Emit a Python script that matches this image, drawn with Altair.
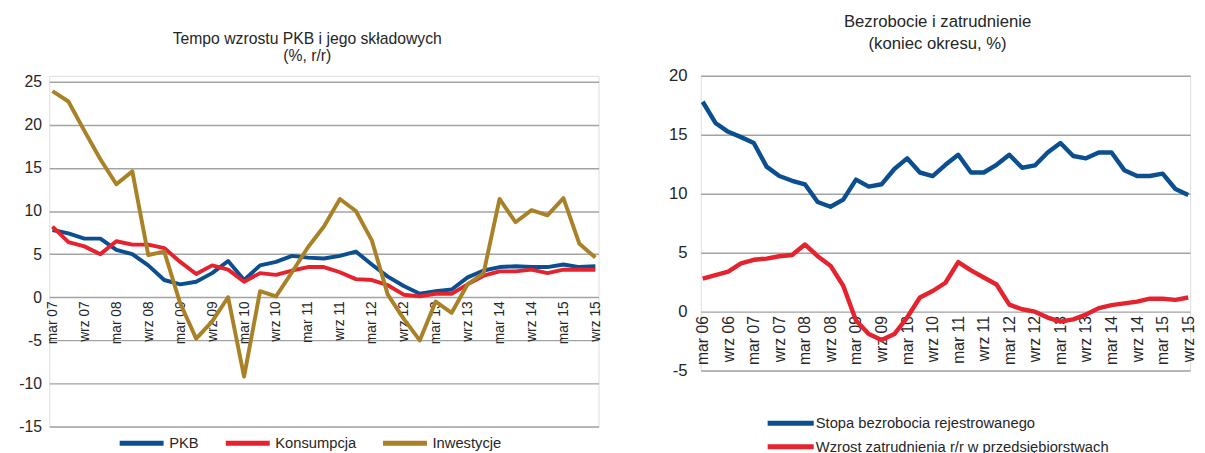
import altair as alt
import pandas as pd

FONT = "Liberation Sans"

# ---------------- left chart data (quarterly, mar 07 - wrz 15) ----------------
months = ["mar", "cze", "wrz", "gru"]
q_left = [f"{m} {y:02d}" for y in range(7, 16) for m in months][:35]
left_ticks = [q for q in q_left if q.startswith(("mar", "wrz"))]

pkb = [7.8, 7.4, 6.8, 6.8, 5.5, 5.0, 3.7, 2.0, 1.5, 1.8,
       2.8, 4.2, 2.0, 3.7, 4.1, 4.8, 4.6, 4.5, 4.8, 5.3,
       3.8, 2.4, 1.3, 0.4, 0.7, 0.9, 2.3, 3.1, 3.5, 3.6,
       3.5, 3.5, 3.8, 3.5, 3.6]
konsumpcja = [8.2, 6.4, 5.9, 5.0, 6.5, 6.1, 6.1, 5.7, 4.1, 2.7,
              3.7, 3.2, 1.8, 2.8, 2.6, 3.1, 3.5, 3.5, 2.9, 2.1,
              2.0, 1.4, 0.3, 0.1, 0.4, 0.4, 1.5, 2.5, 3.0, 3.0,
              3.2, 2.8, 3.2, 3.2, 3.2]
inwestycje = [23.9, 22.7, 19.3, 16.0, 13.1, 14.6, 4.9, 5.3, -0.7, -4.8,
              -2.8, 0.0, -9.2, 0.7, 0.1, 2.9, 5.8, 8.2, 11.4, 10.0,
              6.6, 0.3, -2.5, -5.0, -0.5, -1.8, 1.5, 2.8, 11.4, 8.7,
              10.1, 9.5, 11.5, 6.2, 4.6]
left_series = ["PKB", "Konsumpcja", "Inwestycje"]
left_colors = ["#0b4f91", "#e5232f", "#a98127"]
left_yticks = [-15, -10, -5, 0, 5, 10, 15, 20, 25]

# ---------------- right chart data (quarterly, mar 06 - wrz 15) ----------------
q_right = [f"{m} {y:02d}" for y in range(6, 16) for m in months][:39]
right_ticks = [q for q in q_right if q.startswith(("mar", "wrz"))]

bezrobocie = [17.8, 16.0, 15.25, 14.8, 14.3, 12.3, 11.5, 11.1, 10.8, 9.3,
              8.9, 9.5, 11.2, 10.6, 10.8, 12.1, 13.0, 11.8, 11.5, 12.45,
              13.3, 11.8, 11.8, 12.45, 13.3, 12.2, 12.4, 13.5, 14.3, 13.2,
              13.0, 13.5, 13.5, 12.0, 11.5, 11.5, 11.7, 10.4, 9.9]
zatrudnienie = [2.8, 3.1, 3.4, 4.1, 4.4, 4.5, 4.7, 4.8, 5.7, 4.7,
                3.9, 2.2, -0.75, -1.9, -2.4, -1.9, -0.5, 1.2, 1.75, 2.45,
                4.2, 3.5, 2.9, 2.3, 0.6, 0.2, 0.0, -0.5, -0.85, -0.65,
                -0.25, 0.3, 0.55, 0.7, 0.85, 1.1, 1.1, 1.0, 1.2]
right_series = ["Stopa bezrobocia rejestrowanego",
                "Wzrost zatrudnienia r/r w przedsiębiorstwach"]
right_colors = ["#0b4f91", "#e5232f"]
right_yticks = [-5, 0, 5, 10, 15, 20]

df_left = pd.concat([
    pd.DataFrame({"kw": q_left, "v": vals, "s": name, "o": i})
    for i, (name, vals) in enumerate(zip(left_series, [pkb, konsumpcja, inwestycje]))
])
df_right = pd.concat([
    pd.DataFrame({"kw": q_right, "v": vals, "s": name, "o": i})
    for i, (name, vals) in enumerate(zip(right_series, [bezrobocie, zatrudnienie]))
])

GRID = "#a3a3a3"
TXT = "#262626"
MINUS = "datum.value < 0 ? '-' + abs(datum.value) : '' + datum.value"

left = alt.Chart(df_left).mark_line(strokeWidth=4, strokeJoin="round").encode(
    x=alt.X("kw:O", sort=q_left,
            scale=alt.Scale(type="point", padding=0.2),
            axis=alt.Axis(values=left_ticks, labelAngle=270, labelAlign="right",
                          labelBaseline="middle", labelPadding=4, offset=-132,
                          domain=False, ticks=False, grid=False, title=None,
                          labelFontSize=14, labelColor=TXT, labelFont=FONT)),
    y=alt.Y("v:Q",
            scale=alt.Scale(domain=[-15, 25.68], nice=False, zero=False),
            axis=alt.Axis(values=left_yticks, domain=False, ticks=False, title=None,
                          gridColor=GRID, gridWidth=1.5, labelPadding=8,
                          labelExpr=MINUS,
                          labelFontSize=16, labelColor=TXT, labelFont=FONT)),
    color=alt.Color("s:N",
                    scale=alt.Scale(domain=left_series, range=left_colors),
                    legend=alt.Legend(title=None, orient="none", direction="horizontal",
                                      legendX=69, legendY=349,
                                      symbolType="stroke", symbolSize=2000,
                                      symbolStrokeWidth=5, labelOffset=3,
                                      columnPadding=16, labelFontSize=15,
                                      labelLimit=0,
                                      labelColor=TXT, labelFont=FONT)),
    order="o:Q",
).properties(
    width=559, height=357,
    title=alt.Title(["Tempo wzrostu PKB i jego składowych", "(%, r/r)"],
                    fontSize=16, fontWeight="normal", font=FONT, color=TXT,
                    lineHeight=17, offset=10, dx=-17),
)

right = alt.Chart(df_right).mark_line(strokeWidth=4.5, strokeJoin="round").encode(
    x=alt.X("kw:O", sort=q_right,
            scale=alt.Scale(type="point", padding=0.15),
            axis=alt.Axis(values=right_ticks, labelAngle=270, labelAlign="right",
                          labelBaseline="middle", labelPadding=4, offset=-60,
                          domain=False, ticks=False, grid=False, title=None,
                          labelFontSize=16, labelColor=TXT, labelFont=FONT)),
    y=alt.Y("v:Q",
            scale=alt.Scale(domain=[-5, 20], nice=False, zero=False),
            axis=alt.Axis(values=right_yticks, domain=False, ticks=False, title=None,
                          gridColor=GRID, gridWidth=1.5, labelPadding=14,
                          labelExpr=MINUS,
                          labelFontSize=17, labelColor=TXT, labelFont=FONT)),
    color=alt.Color("s:N",
                    scale=alt.Scale(domain=right_series, range=right_colors),
                    legend=alt.Legend(title=None, orient="none", direction="vertical",
                                      legendX=82, legendY=344,
                                      symbolType="M-3.35,0H3.35", symbolSize=196,
                                      symbolStrokeWidth=5, labelOffset=16,
                                      rowPadding=3, labelFontSize=15,
                                      labelLimit=0,
                                      labelColor=TXT, labelFont=FONT)),
    order="o:Q",
).properties(
    width=498, height=300,
    title=alt.Title(["Bezrobocie i zatrudnienie", "(koniec okresu, %)"],
                    fontSize=17, fontWeight="normal", font=FONT, color=TXT,
                    lineHeight=23, offset=14, dx=-8),
)

chart = alt.hconcat(left, right, spacing=65).resolve_scale(
    color="independent", x="independent", y="independent"
).properties(
    padding={"left": 10, "top": 0, "right": 0, "bottom": 0}
).configure_view(stroke=None).configure(background="white")

chart.save("out.html", embed_options={"renderer": "svg", "actions": False})
